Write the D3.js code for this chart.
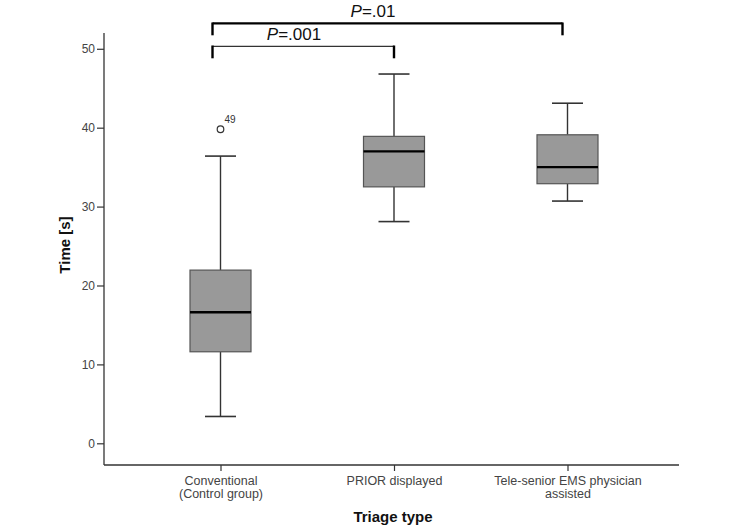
<!DOCTYPE html>
<html>
<head>
<meta charset="utf-8">
<script src="https://cdn.jsdelivr.net/npm/d3@7"></script>
<style>
  body { margin: 0; background: #fff; }
  svg { display: block; font-family: "Liberation Sans", Arial, sans-serif; }
</style>
</head>
<body>
<svg id="chart" width="733" height="531"></svg>
<script>
// ---- data ----
const categories = ["Conventional\n(Control group)", "PRIOR displayed", "Tele-senior EMS physician\nassisted"];
const whiskerLow  = [3.4, 28.1, 30.7];
const q1          = [11.6, 32.5, 32.9];
const median      = [16.6, 37.0, 35.0];
const q3          = [21.95, 38.9, 39.1];
const whiskerHigh = [36.4, 46.8, 43.1];
const outliers    = [{cat: 0, value: 39.8, label: "49"}];
const yTicks      = [0, 10, 20, 30, 40, 50];
const comparisons = [
  {from: 0, to: 1, label: ".001", level: 1},
  {from: 0, to: 2, label: ".01",  level: 2}
];

// ---- layout ----
const svg = d3.select("#chart");
const plotLeft = 104, plotRight = 679, plotTop = 33, plotBottom = 465;

const y = d3.scaleLinear().domain([-2.75, 52]).range([plotBottom, plotTop]);
const x = d3.scalePoint().domain(categories).range([plotLeft + 116.5, plotRight - 111.5]);

const boxW = 61, capW = 31;
const axisColor = "#333";

// axes lines
svg.append("line").attr("x1", plotLeft).attr("x2", plotLeft).attr("y1", plotTop).attr("y2", plotBottom)
  .attr("stroke", axisColor).attr("stroke-width", 1.3);
svg.append("line").attr("x1", plotLeft).attr("x2", plotRight).attr("y1", plotBottom).attr("y2", plotBottom)
  .attr("stroke", axisColor).attr("stroke-width", 1.3);

// y axis
const yAxis = d3.axisLeft(y).tickValues(yTicks).tickSize(7).tickPadding(2);
const gy = svg.append("g").attr("transform", `translate(${plotLeft},0)`).call(yAxis);
gy.select(".domain").remove();
gy.selectAll(".tick line").attr("stroke", axisColor).attr("stroke-width", 1.2);
gy.selectAll(".tick text").attr("fill", "#444").style("font-size", "12px")
  .style("font-family", "Liberation Sans, Arial, sans-serif");

// x axis
const xAxis = d3.axisBottom(x).tickSize(6).tickFormat("");
const gx = svg.append("g").attr("transform", `translate(0,${plotBottom})`).call(xAxis);
gx.select(".domain").remove();
gx.selectAll(".tick line").attr("stroke", axisColor).attr("stroke-width", 1.2);
gx.selectAll(".tick").each(function(d) {
  const lines = d.split("\n");
  const t = d3.select(this).append("text").attr("fill", "#444")
    .attr("text-anchor", "middle").style("font-size", "12.5px")
    .style("font-family", "Liberation Sans, Arial, sans-serif");
  lines.forEach((ln, i) => t.append("tspan").attr("x", 0).attr("y", 20 + i * 12.5).text(ln));
});

// boxes
categories.forEach((c, i) => {
  const cx = x(c);
  const g = svg.append("g");
  g.append("line").attr("x1", cx).attr("x2", cx).attr("y1", y(whiskerHigh[i])).attr("y2", y(q3[i]))
    .attr("stroke", "#333").attr("stroke-width", 1.4);
  g.append("line").attr("x1", cx).attr("x2", cx).attr("y1", y(q1[i])).attr("y2", y(whiskerLow[i]))
    .attr("stroke", "#333").attr("stroke-width", 1.4);
  [whiskerHigh[i], whiskerLow[i]].forEach(v => {
    g.append("line").attr("x1", cx - capW / 2).attr("x2", cx + capW / 2).attr("y1", y(v)).attr("y2", y(v))
      .attr("stroke", "#333").attr("stroke-width", 1.6);
  });
  g.append("rect").attr("x", cx - boxW / 2).attr("width", boxW)
    .attr("y", y(q3[i])).attr("height", y(q1[i]) - y(q3[i]))
    .attr("fill", "#999").attr("stroke", "#555").attr("stroke-width", 1.2);
  g.append("line").attr("x1", cx - boxW / 2).attr("x2", cx + boxW / 2).attr("y1", y(median[i])).attr("y2", y(median[i]))
    .attr("stroke", "#000").attr("stroke-width", 2.4);
});

// outliers
outliers.forEach(o => {
  const cx = x(categories[o.cat]);
  svg.append("circle").attr("cx", cx).attr("cy", y(o.value)).attr("r", 3.3)
    .attr("fill", "#fff").attr("stroke", "#333").attr("stroke-width", 1.2);
  svg.append("text").attr("x", cx + 4).attr("y", y(o.value) - 6).attr("fill", "#333")
    .style("font-size", "10px").text(o.label);
});

// significance brackets
comparisons.forEach(cmp => {
  const x1 = x(categories[cmp.from]) - 8;
  const x2 = x(categories[cmp.to]) - (cmp.to === 2 ? 5 : 0);
  const yh = cmp.level === 2 ? 23.3 : 46.3;
  const drop = 12;
  const g = svg.append("g");
  g.append("line").attr("x1", x1).attr("x2", x2).attr("y1", yh).attr("y2", yh)
    .attr("stroke", cmp.level === 2 ? "#000" : "#333").attr("stroke-width", cmp.level === 2 ? 2.2 : 1.2);
  [x1, x2].forEach(xx => {
    g.append("line").attr("x1", xx).attr("x2", xx).attr("y1", yh - 0.8).attr("y2", yh + drop)
      .attr("stroke", "#000").attr("stroke-width", 2.4);
  });
  const t = g.append("text").attr("x", cmp.level === 2 ? 373 : 294).attr("y", yh - 6.5)
    .attr("text-anchor", "middle").attr("fill", "#111").style("font-size", "17px");
  t.append("tspan").style("font-style", "italic").text("P");
  t.append("tspan").text("=" + cmp.label);
});

// axis titles
svg.append("text").attr("x", 393).attr("y", 521.5).attr("text-anchor", "middle")
  .style("font-size", "15px").style("font-weight", "bold").attr("fill", "#111").text("Triage type");
svg.append("text").attr("transform", "translate(70,245) rotate(-90)").attr("text-anchor", "middle")
  .style("font-size", "15px").style("font-weight", "bold").attr("fill", "#111").text("Time [s]");
</script>
</body>
</html>
